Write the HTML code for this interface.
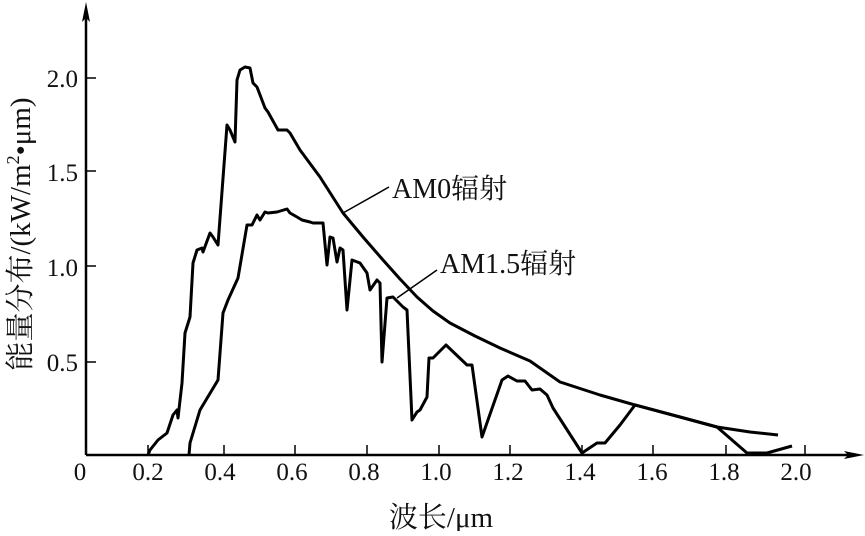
<!DOCTYPE html>
<html><head><meta charset="utf-8"><style>html,body{margin:0;padding:0;background:#fff}</style></head><body>
<svg width="865" height="531" viewBox="0 0 865 531" xmlns="http://www.w3.org/2000/svg" font-family="'Liberation Serif','Noto Serif CJK SC',serif" fill="#111">
<g stroke="#000" stroke-width="2.5" fill="none">
<line x1="86" y1="455" x2="856" y2="455"/>
<line x1="86" y1="455" x2="86" y2="12"/>
</g>
<polygon points="86,2 82,22 86,18 90,22" fill="#000"/>
<polygon points="864,455 844,451 848,455 844,459" fill="#000"/>
<g stroke="#000" stroke-width="1.5">
<line x1="86" y1="78" x2="96" y2="78"/><line x1="86" y1="171" x2="96" y2="171"/><line x1="86" y1="266" x2="96" y2="266"/><line x1="86" y1="362" x2="96" y2="362"/>
<line x1="148" y1="455" x2="148" y2="445"/><line x1="224" y1="455" x2="224" y2="445"/><line x1="295" y1="455" x2="295" y2="445"/><line x1="367" y1="455" x2="367" y2="445"/><line x1="439" y1="455" x2="439" y2="445"/><line x1="510" y1="455" x2="510" y2="445"/><line x1="582" y1="455" x2="582" y2="445"/><line x1="653" y1="455" x2="653" y2="445"/><line x1="726" y1="455" x2="726" y2="445"/><line x1="805" y1="455" x2="805" y2="445"/>
</g>
<g font-size="25" text-anchor="middle">
<text x="80" y="480">0</text><text x="148" y="480">0.2</text><text x="220" y="480">0.4</text><text x="292" y="480">0.6</text><text x="364" y="480">0.8</text><text x="436" y="480">1.0</text><text x="508" y="480">1.2</text><text x="580" y="480">1.4</text><text x="652" y="480">1.6</text><text x="724" y="480">1.8</text><text x="796" y="480">2.0</text>
</g>
<g font-size="25" text-anchor="end">
<text x="78" y="87">2.0</text><text x="78" y="181">1.5</text><text x="78" y="276">1.0</text><text x="78" y="371">0.5</text>
</g>
<text x="441" y="527" font-size="29" text-anchor="middle">波长/μm</text>
<text transform="translate(30,234) rotate(-90)" font-size="29" text-anchor="middle">能量分布/(kW/m<tspan font-size="18" dy="-11">2</tspan><tspan dy="11">•μm)</tspan></text>
<text x="392" y="198" font-size="28">AM0辐射</text>
<text x="440" y="273" font-size="28">AM1.5辐射</text>
<g stroke="#000" stroke-width="1.5" fill="none">
<line x1="343" y1="213" x2="389" y2="187"/>
<line x1="397" y1="298" x2="437" y2="270"/>
</g>
<g stroke="#000" stroke-width="3" fill="none" stroke-linejoin="round">
<polyline points="148,455 150,450 158,440 167,433 173,415 177,410 178,418 182,383 185,333 190,317 193,263 197,250 202,248 203,252 210,233 213,237 218,245 227,125 230,130 235,142 237,80 240,70 245,67 250,68 253,83 257,87 265,108 268,112 278,130 287,130 290,133 300,150 320,177 343,213 363,237 383,260 400,279 417,297 433,311 450,323 475,336 500,348 530,361 560,382 600,395 635,405 680,417 717,427 750,432 778,435"/>
<polyline points="189,455 190,443 200,410 218,380 223,313 228,300 238,278 247,225 252,225 257,215 260,220 265,212 268,213 277,212 287,209 290,213 297,217 302,220 310,222 313,223 323,223 327,265 330,237 333,238 337,262 340,248 343,250 347,310 352,260 360,263 367,273 370,290 377,280 380,283 382,362 387,298 393,297 403,307 407,310 412,420 417,412 420,410 427,397 429,358 433,358 446,345 467,365 472,365 482,437 502,380 508,376 517,381 525,381 532,390 540,389 547,395 553,408 582,453 597,443 605,443 620,425 635,405 680,417 717,427 747,453 767,453 792,446"/>
</g>
</svg>
</body></html>
